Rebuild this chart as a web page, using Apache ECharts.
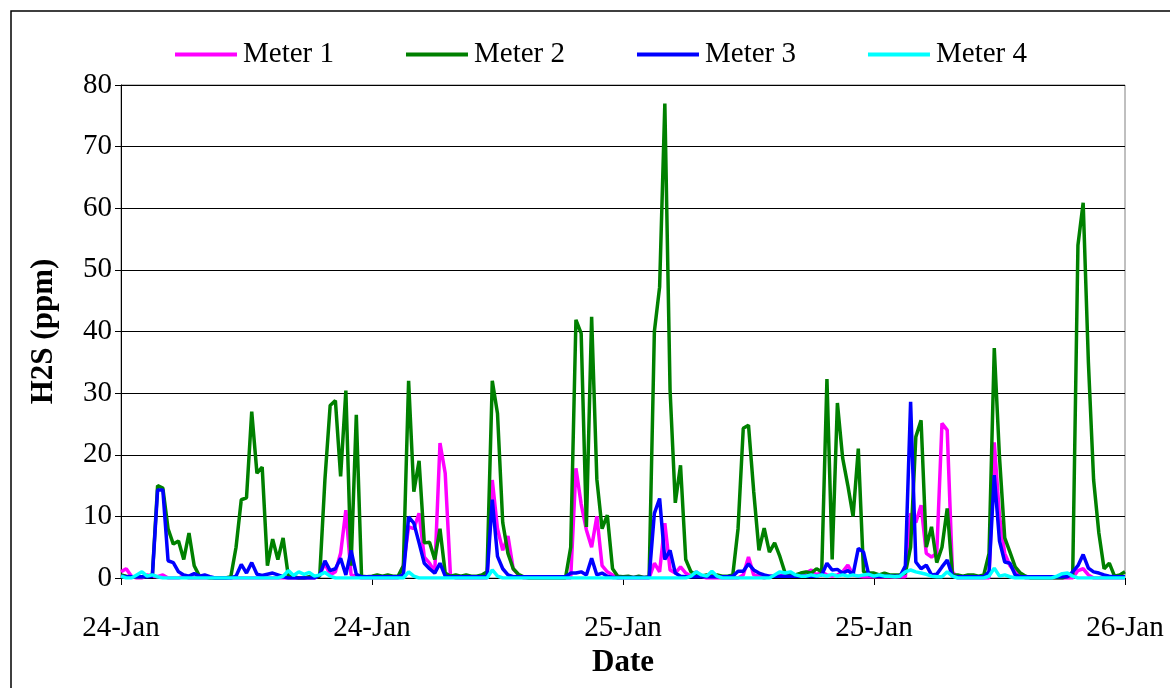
<!DOCTYPE html>
<html>
<head>
<meta charset="utf-8">
<script src="https://cdn.jsdelivr.net/npm/echarts@6/dist/echarts.min.js"></script>
<style>
  html, body { margin: 0; padding: 0; background: #fff; }
  #chart { width: 1170px; height: 688px; }
</style>
</head>
<body>
<div id="chart"></div>
<script>
// readings every 15 minutes, 24-Jan 00:00 .. 26-Jan 00:00
const stepHours = 0.25;
const dayLabels = ['24-Jan', '24-Jan', '25-Jan', '25-Jan', '26-Jan'];

const meter1 = [
    1, 1.5, 0.3, 0, 0, 0.5, 0.3, 0.2, 0.5, 0,
    0, 0, 0.3, 0, 0, 0, 0, 0, 0, 0,
    0, 0, 0, 0, 0, 0, 0, 0, 0, 0,
    0, 0, 0, 0, 0, 0, 0, 0, 0.5, 2.4,
    0.5, 1, 4, 11, 0.5, 0.3, 0, 0, 0, 0,
    0, 0, 0, 0, 2, 8.3, 8, 10.5, 3.4, 2.4,
    1, 21.9, 17, 0.5, 0, 0, 0, 0, 0, 0,
    0, 15.9, 8, 4.5, 6.8, 1.5, 0.5, 0, 0, 0,
    0, 0, 0, 0, 0, 0, 0, 17.8, 12, 7.8,
    5, 10, 2, 1, 0.5, 0, 0, 0, 0, 0,
    0, 0, 2.4, 1, 8.9, 1.3, 0.8, 1.8, 0.8, 0.3,
    1, 0.3, 0, 0, 0, 0, 0, 0, 0, 0.5,
    3.4, 0.5, 0.3, 0, 0.3, 0.3, 0.3, 0.8, 0.3, 0.3,
    0.3, 0.8, 1.3, 0.5, 1, 0.5, 0.3, 0.5, 1, 2.1,
    0.5, 0.3, 0.2, 0.2, 0.2, 0.2, 0.2, 0.2, 0.2, 0.2,
    0.2, 10.5, 9, 11.8, 4, 3.4, 4, 25.1, 24, 1,
    0, 0, 0, 0, 0, 0, 0, 22, 10, 4,
    2, 1, 0.5, 0, 0, 0, 0, 0, 0, 0,
    0, 0, 0, 1.2, 1.5, 0.5, 0, 0, 0, 0,
    0, 0, 0
];

const meter2 = [
    0.5, 0.3, 0.2, 0.2, 0.2, 0.3, 0.5, 15, 14.6, 8,
    5.5, 6, 3, 7.3, 2, 0.3, 0.2, 0, 0, 0,
    0, 0.2, 5, 12.7, 13, 27, 17, 18, 2, 6.3,
    3, 6.5, 0.3, 0.2, 0, 0, 0.2, 0.2, 0.3, 16,
    28, 28.8, 16.5, 30.4, 2, 26.5, 0.3, 0.2, 0.3, 0.5,
    0.3, 0.5, 0.3, 0.3, 2, 32, 14, 19, 5.7, 5.8,
    3, 8, 0.8, 0.3, 0.5, 0.3, 0.5, 0.3, 0.3, 0.5,
    1, 32, 26.7, 9, 4, 1.5, 0.6, 0.2, 0, 0,
    0, 0, 0, 0, 0, 0, 5, 41.9, 39.7, 8.3,
    42.4, 16, 8, 10.2, 1.5, 0.3, 0.2, 0.3, 0.1, 0.3,
    0.1, 0.2, 40, 47.2, 77, 30.5, 12.2, 18.3, 3, 1,
    0.5, 0.3, 0.5, 0.3, 0.5, 0.3, 0.3, 0.5, 8, 24.3,
    24.8, 14, 4.5, 8.1, 4.2, 5.7, 3.5, 0.8, 0.5, 0.5,
    0.8, 1, 0.8, 1.5, 1, 32.3, 3, 28.4, 19.5, 15,
    10, 21, 1, 0.8, 0.8, 0.5, 0.8, 0.5, 0.5, 0.5,
    0.8, 5, 22.9, 25.6, 5, 8.3, 2.5, 5, 11.3, 0.5,
    0.5, 0.3, 0.5, 0.5, 0.3, 0.5, 4, 37.3, 19.6, 6.5,
    4.2, 1.8, 0.8, 0.3, 0, 0, 0, 0, 0, 0,
    0, 0.3, 0.5, 54, 60.9, 35, 15.9, 7.3, 1.5, 2.4,
    0.3, 0.5, 1
];

const meter3 = [
    0.3, 0.2, 0.2, 0.2, 0.2, 0.2, 0.3, 14.3, 14.3, 2.8,
    2.5, 1, 0.5, 0.3, 0.7, 0.3, 0.5, 0.2, 0, 0,
    0, 0, 0.3, 2.2, 0.8, 2.5, 0.6, 0.4, 0.6, 0.8,
    0.5, 0.2, 0, 0, 0, 0, 0, 0, 0.5, 2.8,
    1.2, 1.5, 3.2, 0.5, 4.5, 0.6, 0.2, 0.2, 0.2, 0.2,
    0.2, 0.2, 0.2, 0.2, 0.5, 9.9, 8.9, 5.7, 2.4, 1.5,
    0.8, 2.4, 0.3, 0.2, 0.2, 0.2, 0.2, 0.2, 0.2, 0.2,
    0.2, 12.7, 3.5, 1.5, 0.5, 0.2, 0.2, 0.2, 0.2, 0.2,
    0.2, 0.2, 0.2, 0.2, 0.2, 0.2, 0.8, 0.8, 1, 0.5,
    3.2, 0.5, 0.8, 0.3, 0.1, 0.1, 0.1, 0.1, 0.1, 0.1,
    0.1, 0.1, 10.5, 12.9, 3, 4.5, 0.8, 0.3, 0.2, 0.2,
    0.2, 0.2, 0.2, 0.2, 0.2, 0.2, 0.2, 0.3, 1.1, 1.1,
    2.3, 1.3, 0.8, 0.5, 0.3, 0.3, 0.3, 0.3, 0.3, 0.3,
    0.3, 0.3, 0.3, 0.3, 0.5, 2.4, 1.3, 1.4, 0.8, 1.2,
    0.6, 4.8, 4.2, 0.5, 0.3, 0.3, 0.3, 0.3, 0.3, 0.3,
    2, 28.6, 2.6, 1.5, 2.1, 0.5, 0.6, 1.8, 2.9, 0.3,
    0.2, 0.2, 0.2, 0.2, 0.2, 0.2, 1, 16.7, 6, 2.6,
    2.4, 0.5, 0.2, 0.2, 0.2, 0.2, 0.2, 0.2, 0.2, 0.2,
    0.2, 0.2, 1, 2, 3.8, 1.6, 1, 0.8, 0.5, 0.3,
    0.2, 0.2, 0.2
];

const meter4 = [
    0.3, 0, 0, 0.5, 1, 0.3, 0.5, 0.2, 0, 0,
    0, 0, 0, 0, 0, 0, 0, 0, 0, 0,
    0, 0, 0, 0, 0, 0, 0, 0, 0, 0,
    0, 0.3, 1.2, 0.4, 1, 0.6, 0.9, 0.3, 0.5, 0.9,
    0.3, 0, 0, 0, 0, 0, 0, 0, 0, 0,
    0, 0, 0, 0, 0, 1, 0.3, 0, 0, 0,
    0, 0, 0, 0, 0, 0, 0, 0, 0, 0,
    0, 1.3, 0.3, 0, 0, 0, 0, 0, 0, 0,
    0, 0, 0, 0, 0, 0, 0, 0, 0, 0,
    0, 0, 0, 0, 0, 0, 0, 0, 0, 0,
    0, 0, 0, 0, 0, 0, 0, 0, 0, 0.3,
    1, 0.5, 0.3, 1.1, 0.3, 0, 0, 0, 0, 0,
    0, 0, 0, 0, 0, 0.5, 1, 0.8, 1, 0.5,
    0.3, 0.3, 0.5, 0.3, 0.5, 0.3, 0.6, 0.3, 0.5, 0.3,
    0.5, 0.3, 0.5, 0.6, 0.3, 0.5, 0.3, 0.3, 0.2, 0.3,
    1, 1.3, 1, 0.8, 0.6, 0.3, 0.2, 0.2, 1, 0.3,
    0, 0, 0, 0, 0, 0, 0.3, 1.6, 0.3, 0.5,
    0.2, 0, 0, 0, 0, 0, 0, 0, 0, 0.3,
    0.7, 0.8, 0.3, 0, 0, 0, 0, 0, 0, 0,
    0, 0, 0
];

const meterNames = ['Meter 1', 'Meter 2', 'Meter 3', 'Meter 4'];
const meterColors = ['#FF00FF', '#008000', '#0000FF', '#00FFFF'];
const fontFamily = '"Liberation Serif", "Times New Roman", serif';

const toPairs = vals => vals.map((v, i) => [i * stepHours, v]);

const chart = echarts.init(document.getElementById('chart'));

chart.setOption({
    animation: false,
    backgroundColor: '#fff',
    textStyle: { fontFamily: fontFamily, color: '#000' },
    graphic: [{
        type: 'rect',
        shape: { x: 11, y: 11, width: 1200, height: 720 },
        style: { fill: 'none', stroke: '#000', lineWidth: 1.5 },
        silent: true
    }],
    legend: {
        top: 35,
        left: 170,
        icon: 'rect',
        itemWidth: 62,
        itemHeight: 4,
        itemGap: 72,
        textStyle: { fontFamily: fontFamily, fontSize: 29, color: '#000', padding: [0, 0, 0, 1] },
        data: meterNames
    },
    grid: {
        left: 121,
        right: 45,
        top: 85,
        bottom: 110,
        show: true,
        borderColor: '#808080',
        borderWidth: 1
    },
    xAxis: {
        type: 'value',
        min: 0,
        max: 48,
        interval: 12,
        name: 'Date',
        nameLocation: 'middle',
        nameGap: 68,
        nameTextStyle: { fontFamily: fontFamily, fontSize: 31, fontWeight: 'bold', color: '#000' },
        axisLine: { lineStyle: { color: '#000', width: 1 } },
        axisTick: { length: 7, lineStyle: { color: '#000' } },
        axisLabel: {
            margin: 36,
            fontFamily: fontFamily,
            fontSize: 29,
            color: '#000',
            formatter: v => dayLabels[Math.round(v / 12)]
        },
        splitLine: { show: false }
    },
    yAxis: {
        type: 'value',
        min: 0,
        max: 80,
        interval: 10,
        name: 'H2S (ppm)',
        nameLocation: 'middle',
        nameGap: 62,
        nameTextStyle: { fontFamily: fontFamily, fontSize: 31, fontWeight: 'bold', color: '#000' },
        axisLine: { show: true, lineStyle: { color: '#000', width: 1 } },
        axisTick: { show: true, length: 6, lineStyle: { color: '#000' } },
        axisLabel: { margin: 9, fontFamily: fontFamily, fontSize: 29, color: '#000' },
        splitLine: { lineStyle: { color: '#000', width: 1 } }
    },
    series: [meter1, meter2, meter3, meter4].map((vals, i) => ({
        name: meterNames[i],
        type: 'line',
        data: toPairs(vals),
        symbol: 'none',
        color: meterColors[i],
        lineStyle: { width: 3.5, color: meterColors[i] }
    }))
});
</script>
</body>
</html>
